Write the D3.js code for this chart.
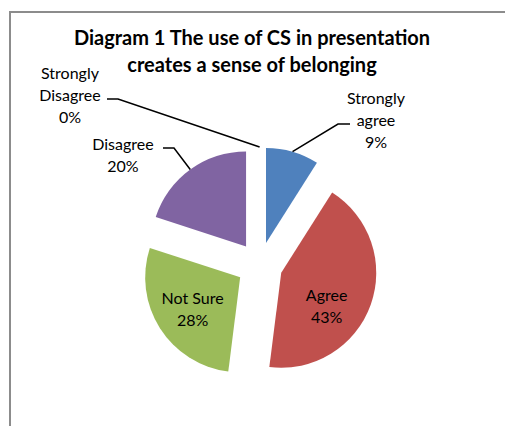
<!DOCTYPE html>
<html>
<head>
<meta charset="utf-8">
<script src="https://cdn.jsdelivr.net/npm/d3@7"></script>
<style>
  body { margin: 0; background: #fff; }
  text { font-family: Lato, "Liberation Sans", sans-serif; fill: #000; }
</style>
</head>
<body>
<div id="vis_pie"></div>
<script>
var categories = ['Strongly agree', 'Agree', 'Not Sure', 'Disagree', 'Strongly Disagree'];
var values = [9, 43, 28, 20, 0];
var colors = ['#4F81BD', '#C0504D', '#9BBB59', '#8064A2', '#4BACC6'];
var titleLines = ['Diagram 1 The use of CS in presentation', 'creates a sense of belonging'];

var width = 505;
var height = 426;

var svg = d3.select('#vis_pie')
  .append('svg')
  .attr('width', width)
  .attr('height', height);

// chart frame (runs off the right and bottom edge)
svg.append('rect')
  .attr('x', 10)
  .attr('y', 12)
  .attr('width', 520)
  .attr('height', 440)
  .attr('fill', 'none')
  .attr('stroke', '#8c8c8c')
  .attr('stroke-width', 2);

// title
svg.selectAll('.title')
  .data(titleLines)
  .enter()
  .append('text')
  .attr('class', 'title')
  .attr('x', 252)
  .attr('y', function(d, i) { return 45 + i * 27; })
  .attr('text-anchor', 'middle')
  .style('font-size', '20px')
  .style('font-weight', 'bold')
  .text(function(d) { return d; });

var cx = 259.6, cy = 265;
var radius = 95;
var explode = 23;

var data = categories.map(function(c, i) {
  return { name: c, value: values[i], color: colors[i] };
});
var total = d3.sum(values);
var pct = d3.format('.0%');

var pie = d3.pie()
  .sort(null)
  .value(function(d) { return d.value; });

var arc = d3.arc()
  .innerRadius(0)
  .outerRadius(radius);

var arcs = pie(data);

function offset(d, r) {
  var a = (d.startAngle + d.endAngle) / 2;
  return [Math.sin(a) * r, -Math.cos(a) * r];
}

var g = svg.append('g')
  .attr('transform', 'translate(' + cx + ',' + cy + ')');

g.selectAll('.slice')
  .data(arcs)
  .enter()
  .append('path')
  .attr('class', 'slice')
  .attr('transform', function(d) {
    var o = offset(d, explode);
    return 'translate(' + o[0] + ',' + o[1] + ')';
  })
  .attr('fill', function(d) { return d.data.color; })
  .attr('d', arc);

// inside labels for the big slices, outside labels with leaders for the rest
var inside = { 'Agree': [67, 36], 'Not Sure': [-67, 39] };
var outside = {
  'Strongly agree': { lines: ['Strongly', 'agree'], x: 376, y: 104, elbow: [338, 350, 124] },
  'Disagree': { lines: ['Disagree'], x: 123, y: 150, elbow: [174, 163, 148] },
  'Strongly Disagree': { lines: ['Strongly', 'Disagree'], x: 70, y: 79, elbow: [118, 107, 99] }
};

arcs.forEach(function(d) {
  var name = d.data.name;
  var label = pct(d.data.value / total);
  if (inside[name]) {
    var p = inside[name];
    var t = g.append('text')
      .attr('text-anchor', 'middle')
      .style('font-size', '16px');
    t.append('tspan').attr('x', p[0]).attr('y', p[1]).text(name);
    t.append('tspan').attr('x', p[0]).attr('y', p[1] + 22).text(label);
    return;
  }
  var o = outside[name];
  var lines = o.lines.concat([label]);
  var t2 = svg.append('text')
    .attr('text-anchor', 'middle')
    .style('font-size', '16px');
  lines.forEach(function(s, i) {
    t2.append('tspan').attr('x', o.x).attr('y', o.y + i * 22).text(s);
  });
  var e = offset(d, explode + radius);
  svg.append('polyline')
    .attr('points', [[cx + e[0], cy + e[1]], [o.elbow[0], o.elbow[2]], [o.elbow[1], o.elbow[2]]].join(' '))
    .attr('fill', 'none')
    .attr('stroke', '#000')
    .attr('stroke-width', 1.5);
});
</script>
</body>
</html>
